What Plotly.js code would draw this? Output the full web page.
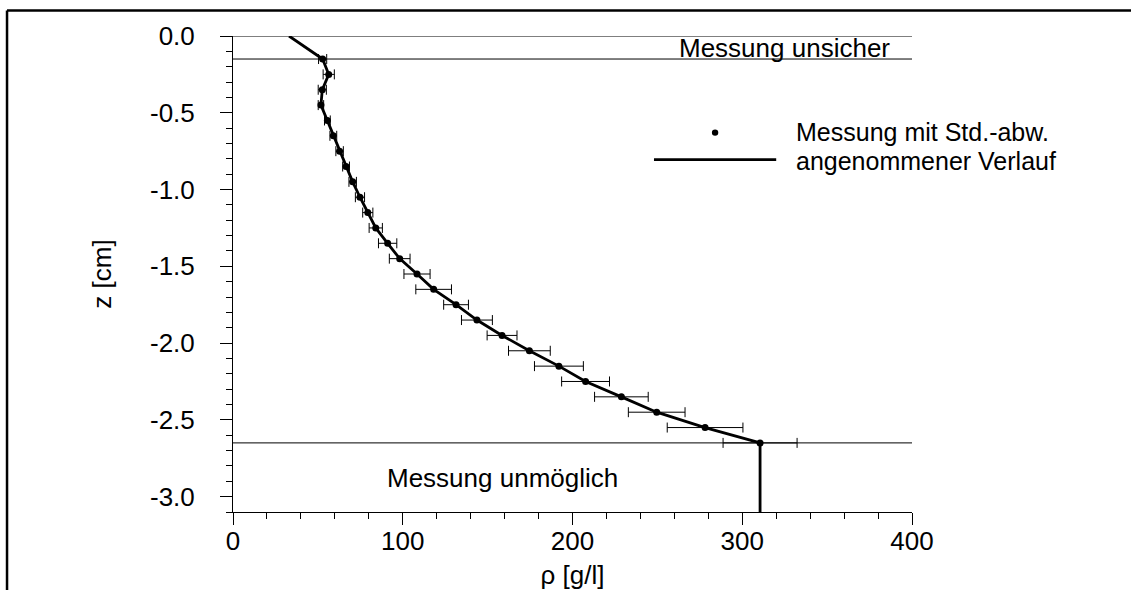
<!DOCTYPE html>
<html>
<head>
<meta charset="utf-8">
<script src="https://cdn.plot.ly/plotly-3.0.1.min.js"></script>
<style>
  html, body { margin: 0; padding: 0; background: #fff; }
  #chart { width: 1131px; height: 590px; }
</style>
</head>
<body>
<div id="chart"></div>
<script>
// Depth of each measurement [cm]
const depth = [-0.15, -0.25, -0.35, -0.45, -0.55, -0.65, -0.75, -0.85, -0.95, -1.05,
               -1.15, -1.25, -1.35, -1.45, -1.55, -1.65, -1.75, -1.85, -1.95, -2.05,
               -2.15, -2.25, -2.35, -2.45, -2.55, -2.65];
// Measured density [g/l]
const rho = [52.8, 56.4, 52.6, 51.8, 55.6, 59.1, 62.8, 66.6, 70.5, 74.8,
             79.4, 84.1, 91.1, 98.2, 108.4, 118.2, 131.4, 143.7, 158.5, 174.6,
             192.0, 207.7, 228.8, 249.6, 278.1, 310.5];
// Standard deviation of each measurement [g/l]
const rhoStd = [2.4, 3.3, 2.4, 1.6, 1.7, 2.0, 2.2, 2.0, 2.2, 2.7,
                3.0, 3.9, 5.4, 6.1, 7.7, 10.5, 7.3, 9.1, 8.8, 12.3,
                14.4, 14.1, 15.8, 16.7, 22.3, 21.8];

// Assumed profile: surface value, then the measurements, then constant to the bottom
const surfaceRho = 33.0;
const surfaceDepth = 0.0;
const bottomDepth = -3.1;
const profileRho = [surfaceRho].concat(rho, [rho[rho.length - 1]]);
const profileDepth = [surfaceDepth].concat(depth, [bottomDepth]);

// Zone boundaries [cm]
const boundaryDepths = [0.0, -0.15, -2.65];

// Axis ticks
const yTickValues = [0.0, -0.5, -1.0, -1.5, -2.0, -2.5, -3.0];
const yTickLabels = ["0.0", "-0.5", "-1.0", "-1.5", "-2.0", "-2.5", "-3.0"];
const xTickValues = [0, 100, 200, 300, 400];
const xTickLabels = ["0", "100", "200", "300", "400"];

// Texts
const legendLabels = ["Messung mit Std.-abw.", "angenommener Verlauf"];
const zoneLabels = ["Messung unsicher", "Messung unmöglich"];

const FONT = "Liberation Sans, Arial, Helvetica, sans-serif";
const FS = 26;

const traces = [
  {
    type: "scatter",
    mode: "lines",
    x: profileRho,
    y: profileDepth,
    line: { color: "#000", width: 2.8 },
    hoverinfo: "skip",
    showlegend: false
  },
  {
    type: "scatter",
    mode: "markers",
    x: rho,
    y: depth,
    marker: { color: "#000", size: 7 },
    error_x: { type: "data", array: rhoStd, visible: true, color: "#000", thickness: 1, width: 5 },
    showlegend: false
  }
];

const shapes = [];
boundaryDepths.forEach(function (z) {
  shapes.push({ type: "line", xref: "x", yref: "y", x0: 0, x1: 400, y0: z, y1: z,
                line: { color: "#000", width: 1 }, layer: "below" });
});

// Legend keys
const legendDot = { x: 284, y: -0.629 };
const legendLine = { x0: 248, x1: 320, y: -0.805 };
const legendTextX = 331;
const legendTextY = [-0.622, -0.815];
shapes.push({ type: "circle", xref: "x", yref: "y", xsizemode: "pixel", ysizemode: "pixel",
              xanchor: legendDot.x, yanchor: legendDot.y, x0: -3.2, x1: 3.2, y0: -3.2, y1: 3.2,
              fillcolor: "#000", line: { color: "#000", width: 0 } });
shapes.push({ type: "line", xref: "x", yref: "y", x0: legendLine.x0, x1: legendLine.x1,
              y0: legendLine.y, y1: legendLine.y, line: { color: "#000", width: 2.8 } });

// Outer frame (top and left edges)
shapes.push({ type: "line", xref: "paper", yref: "paper", x0: -0.3328, x1: 1.33, y0: 1.0536, y1: 1.0536,
              line: { color: "#000", width: 2.5 } });
shapes.push({ type: "line", xref: "paper", yref: "paper", x0: -0.3328, x1: -0.3328, y0: 1.0536, y1: -0.18,
              line: { color: "#000", width: 2.5 } });

const legendFont = { family: FONT, size: 25, color: "#000" };
const annotations = [
  { x: legendTextX, y: legendTextY[0], xref: "x", yref: "y", text: legendLabels[0],
    showarrow: false, xanchor: "left", yanchor: "middle", borderpad: 0, font: legendFont },
  { x: legendTextX, y: legendTextY[1], xref: "x", yref: "y", text: legendLabels[1],
    showarrow: false, xanchor: "left", yanchor: "middle", borderpad: 0, font: legendFont },
  { x: 388, y: -0.075, xref: "x", yref: "y", text: zoneLabels[0],
    showarrow: false, xanchor: "right", yanchor: "middle", font: { family: FONT, size: FS, color: "#000" } },
  { x: 158.5, y: -2.88, xref: "x", yref: "y", text: zoneLabels[1],
    showarrow: false, xanchor: "center", yanchor: "middle", font: { family: FONT, size: FS, color: "#000" } }
];

const layout = {
  width: 1131,
  height: 590,
  margin: { l: 233, r: 219, t: 36, b: 78, pad: 0 },
  paper_bgcolor: "#fff",
  plot_bgcolor: "#fff",
  font: { family: FONT, size: FS, color: "#000" },
  showlegend: false,
  xaxis: {
    range: [0, 400],
    tickvals: xTickValues,
    ticktext: xTickLabels,
    ticks: "outside",
    ticklen: 12,
    tickwidth: 1,
    tickcolor: "#000",
    minor: { dtick: 20, ticks: "outside", ticklen: 6, tickwidth: 1, tickcolor: "#000" },
    showline: true,
    linecolor: "#000",
    linewidth: 1,
    showgrid: false,
    zeroline: false,
    ticklabelstandoff: -6,
    tickfont: { family: FONT, size: FS, color: "#000" },
    title: { text: "ρ [g/l]", font: { family: FONT, size: FS, color: "#000" }, standoff: 16 },
    automargin: false
  },
  yaxis: {
    range: [-3.1, 0],
    tickvals: yTickValues,
    ticktext: yTickLabels,
    ticks: "outside",
    ticklen: 12,
    tickwidth: 1,
    tickcolor: "#000",
    minor: { dtick: 0.1, ticks: "outside", ticklen: 6, tickwidth: 1, tickcolor: "#000" },
    showline: true,
    linecolor: "#000",
    linewidth: 1,
    showgrid: false,
    zeroline: false,
    ticklabelstandoff: 20,
    tickfont: { family: FONT, size: FS, color: "#000" },
    title: { text: "z [cm]", font: { family: FONT, size: FS, color: "#000" }, standoff: 30 },
    automargin: false
  },
  shapes: shapes,
  annotations: annotations
};

Plotly.newPlot("chart", traces, layout, { staticPlot: true, displayModeBar: false });
</script>
</body>
</html>
